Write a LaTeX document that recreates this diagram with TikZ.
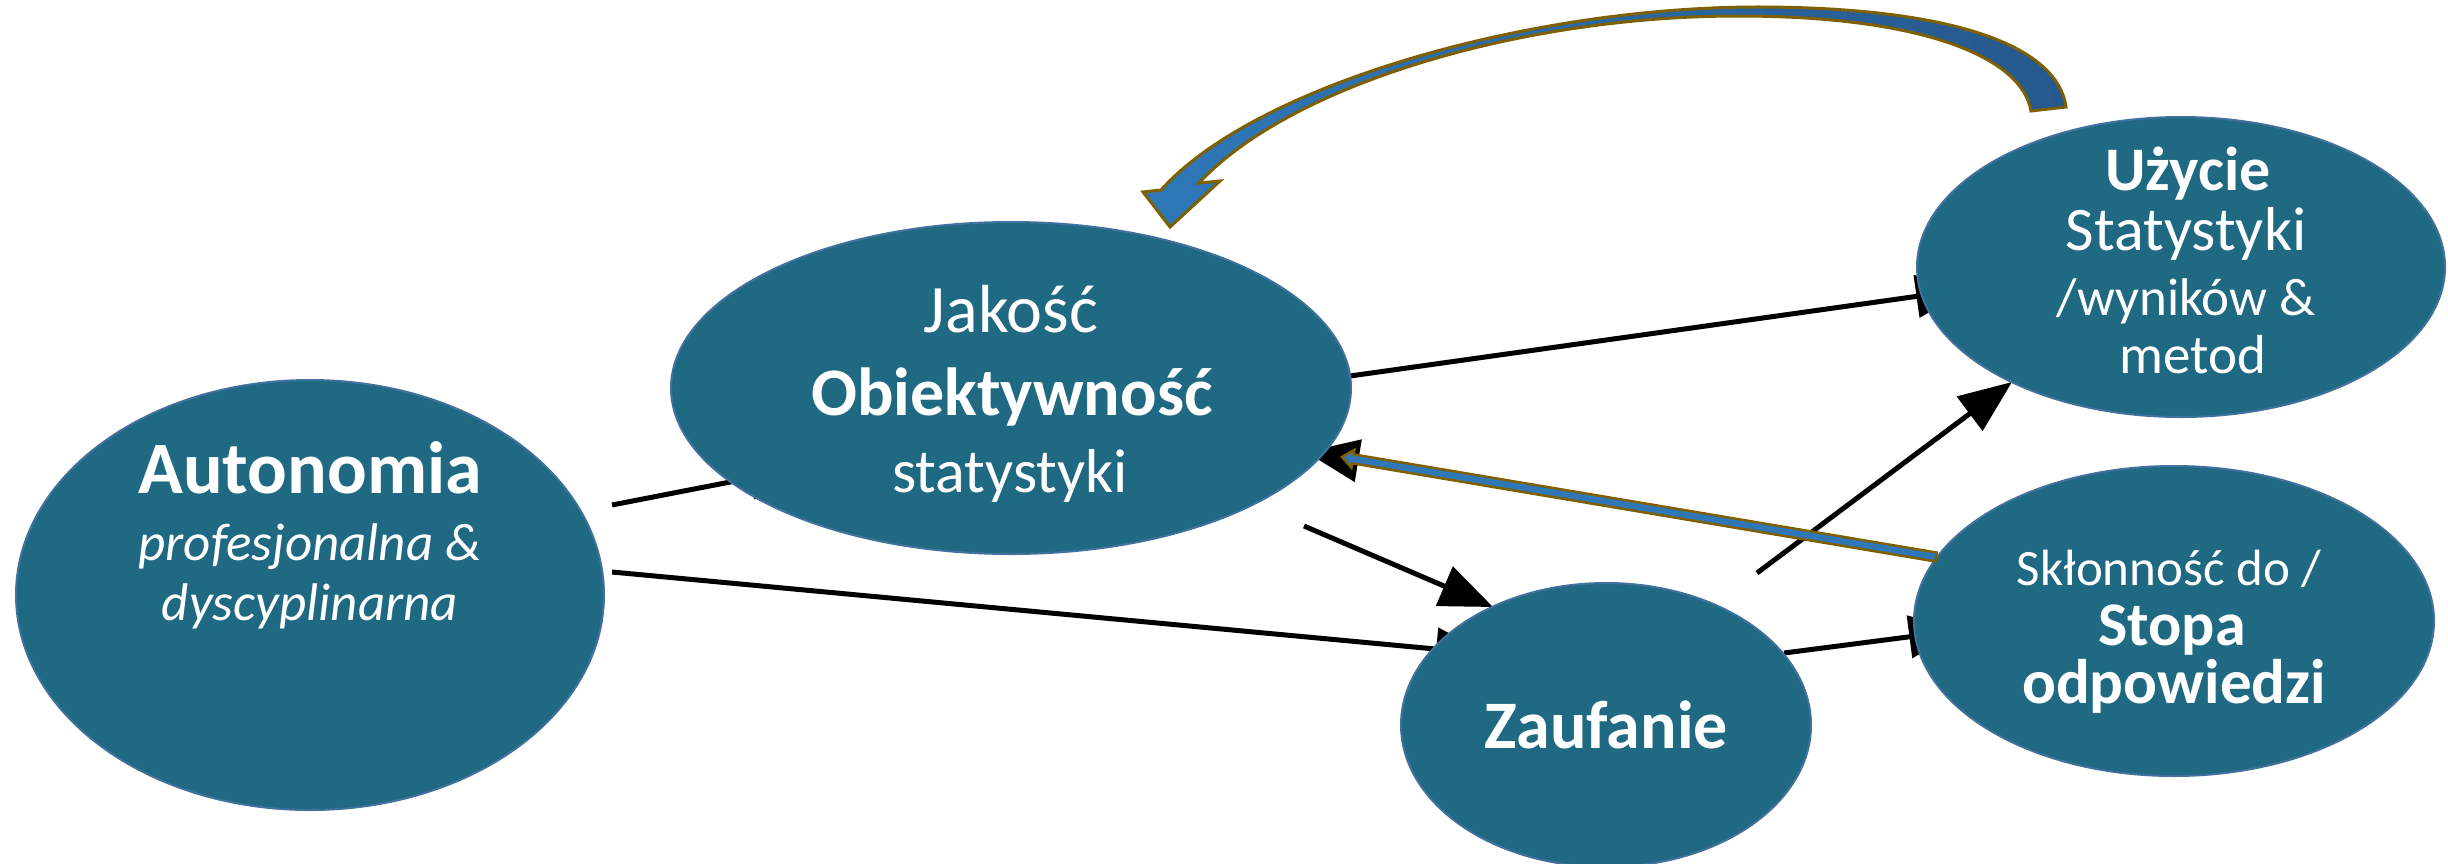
\documentclass[tikz,border=0pt]{standalone}
\usepackage{fontspec}
\setmainfont{Carlito}
\usetikzlibrary{arrows.meta,shapes.geometric,calc}

\definecolor{nodefill}{RGB}{31,105,130}
\definecolor{nodeedge}{RGB}{65,113,156}
\definecolor{ribbon}{RGB}{46,120,184}
\definecolor{ribbondark}{RGB}{38,88,140}
\definecolor{goldedge}{RGB}{127,96,0}

\tikzset{
  bubble/.style={ellipse, fill=nodefill, draw=nodeedge, line width=2pt, inner sep=0pt},
  lbl/.style={anchor=base, text=white, inner sep=0pt},
  link/.style={draw=black, line width=5pt, -{Triangle[length=53pt,width=42pt]}},
  band/.style={draw=goldedge, line join=miter},
}

\begin{document}
\begin{tikzpicture}[x=1pt,y=-1pt]
\useasboundingbox (0,0) rectangle (2448,863);

% end points of the causal links
\coordinate (autJs) at (612,505);
\coordinate (autJe) at (802,468);
\coordinate (autZs) at (612,572);
\coordinate (autZe) at (1489,654);
\coordinate (jakUs) at (1350,376);
\coordinate (jakUe) at (1969,289);
\coordinate (jakZs) at (1304,526);
\coordinate (jakZe) at (1493,607);
\coordinate (zauSs) at (1784,653);
\coordinate (zauSe) at (1962,630);
\coordinate (zauUs) at (1757,573);
\coordinate (zauUe) at (2012,382);
\coordinate (sklJs) at (1936,557);
\coordinate (sklJe) at (1306,452);

% black links (drawn first, partly covered by the ellipses)
\draw[link] (autJs) -- (autJe);
\draw[link] (autZs) -- (autZe);
\draw[link] (jakUs) -- (jakUe);
\draw[link] (jakZs) -- (jakZe);
\draw[link] (zauSs) -- (zauSe);
\draw[link] (zauUs) -- (zauUe);
\draw[link] (sklJs) -- (sklJe);

% ellipses
\node[bubble, minimum width=588pt, minimum height=430pt] (aut) at (310,595) {};
\node[bubble, minimum width=680pt, minimum height=332pt] (jak) at (1011,388) {};
\node[bubble, minimum width=528pt, minimum height=300pt] (uzy) at (2181,267) {};
\node[bubble, minimum width=520pt, minimum height=310pt] (skl) at (2174,621) {};
\node[bubble, minimum width=410pt, minimum height=284pt] (zau) at (1606,725) {};

% thin feedback arrow from response rate back to quality
\coordinate (g0) at (1936,557);
\coordinate (g1) at (1342,457);
\coordinate (gh) at ($(g1)!11pt!(g0)$);
\path[band, fill=ribbon, line width=2.5pt]
  ($(g0)!4.5pt!90:(g1)$) -- ($(gh)!4.5pt!90:(g1)$) -- ($(gh)!9pt!90:(g1)$)
  -- (g1) -- ($(gh)!9pt!-90:(g1)$) -- ($(gh)!4.5pt!-90:(g1)$)
  -- ($(g0)!4.5pt!-90:(g1)$) -- cycle;

% large curved arrow from use back to quality
\path[band, line width=3pt, left color=ribbon, right color=ribbondark]
  (2066,107)
  .. controls (2058,48) and (1960,8) .. (1763,7)
  .. controls (1530,6) and (1255,85) .. (1161,190)
  -- (1143,192) -- (1170,227) -- (1220,181) -- (1199,183)
  .. controls (1290,85) and (1520,16) .. (1738,16)
  .. controls (1925,16) and (2022,58) .. (2031,111)
  -- cycle;

% texts
\node[lbl, font=\bfseries\fontsize{74}{80}\selectfont] (autA) at (310,493) {Autonomia};
\node[lbl, font=\itshape\fontsize{53}{60}\selectfont] (autB) at (310,560) {profesjonalna \&};
\node[lbl, font=\itshape\fontsize{53}{60}\selectfont] (autC) at (310,620) {dyscyplinarna};

\node[lbl, font=\fontsize{68}{80}\selectfont] (jakA) at (1011,332) {Jakość};
\node[lbl, font=\bfseries\fontsize{68}{80}\selectfont] (jakB) at (1012,415) {Obiektywność};
\node[lbl, font=\fontsize{62}{70}\selectfont] (jakC) at (1010,492) {statystyki};

\node[lbl, font=\bfseries\fontsize{62}{70}\selectfont] (uzyA) at (2188,190) {Użycie};
\node[lbl, font=\fontsize{62}{70}\selectfont] (uzyB) at (2186,250) {Statystyki};
\node[lbl, font=\fontsize{53}{60}\selectfont] (uzyC) at (2186,315) {/wyników \&};
\node[lbl, font=\fontsize{55}{60}\selectfont] (uzyD) at (2193,373) {metod};

\node[lbl, font=\fontsize{51}{60}\selectfont] (sklA) at (2169,585) {Skłonność do /};
\node[lbl, font=\bfseries\fontsize{62}{70}\selectfont] (sklB) at (2172,645) {Stopa};
\node[lbl, font=\bfseries\fontsize{63}{70}\selectfont] (sklC) at (2174,703) {odpowiedzi};

\node[lbl, font=\bfseries\fontsize{68}{80}\selectfont] (zauA) at (1606,748) {Zaufanie};
\end{tikzpicture}
\end{document}
